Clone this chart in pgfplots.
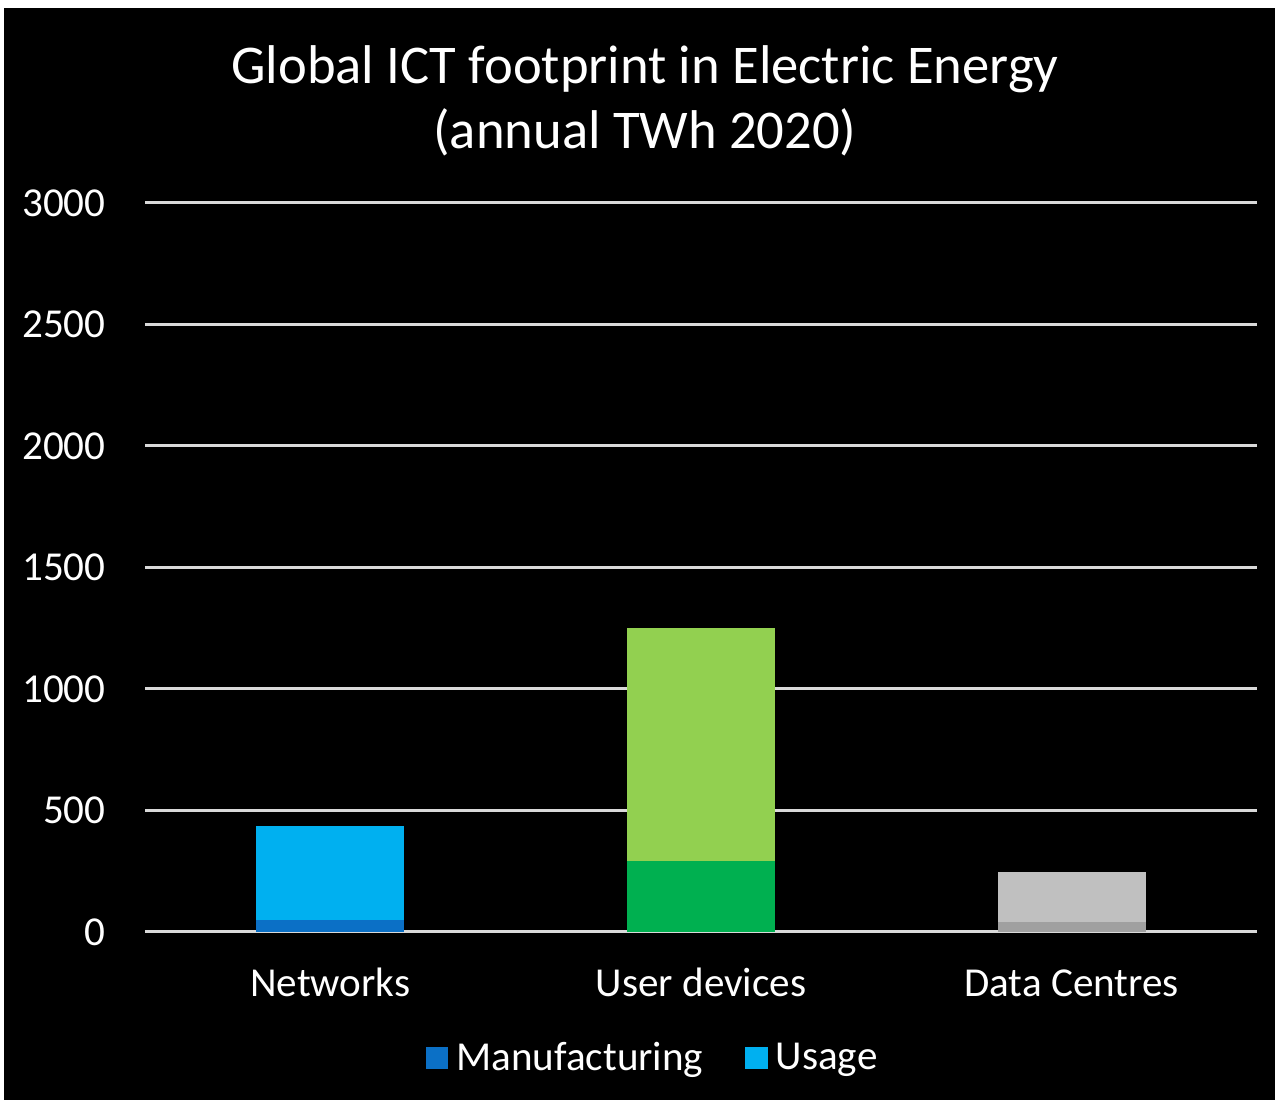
\documentclass[border=0pt]{standalone}
\usepackage{fontspec}
\setmainfont{Carlito}
\usepackage{pgfplots}
\pgfplotsset{compat=1.18}
\definecolor{netM}{HTML}{0B70C6}
\definecolor{netU}{HTML}{00B0F0}
\definecolor{udM}{HTML}{00B050}
\definecolor{udU}{HTML}{92D050}
\definecolor{dcM}{HTML}{A0A0A0}
\definecolor{dcU}{HTML}{C0C0C0}
\definecolor{gridc}{HTML}{D9D9D9}
\begin{document}
\begin{tikzpicture}
\fill[white] (0pt,0pt) rectangle (459pt,396pt);
\fill[black] (1.44pt,0pt) rectangle (459pt,393.12pt);
\node[anchor=base, text=white, inner sep=0, font=\fontsize{19.65pt}{24pt}\selectfont] at (232.2pt,366.1pt) {Global ICT footprint in Electric Energy};
\node[anchor=base, text=white, inner sep=0, font=\fontsize{19.65pt}{24pt}\selectfont] at (232.2pt,342.7pt) {(annual TWh 2020)};
\begin{axis}[
  at={(52.2pt,60.48pt)}, anchor=south west,
  scale only axis, width=400.32pt, height=262.44pt,
  xmin=-0.5, xmax=2.5, ymin=0, ymax=3000,
  ytick={0,500,1000,1500,2000,2500,3000},
  xtick={0,1,2}, xticklabels={Networks,User devices,Data Centres},
  ymajorgrids, grid style={line width=1.08pt, gridc},
  axis line style={draw=none}, major tick length=0pt,
  scaled ticks=false,
  /pgf/number format/1000 sep={},
  /pgf/number format/assume math mode=true,
  tick label style={text=white, font=\fontsize{14.8pt}{17pt}\selectfont},
  y tick label style={anchor=east, inner sep=0pt, xshift=-14pt},
  x tick label style={anchor=base, inner sep=0pt, yshift=-23.4pt},
  ybar stacked, bar width=0.4,
  legend columns=2,
  legend style={draw=none, fill=none, text=white, inner sep=0pt,
    font=\fontsize{14.8pt}{17pt}\selectfont,
    at={(0.458,-0.173)}, anchor=center,
    /tikz/every odd column/.append style={column sep=1pt},
    /tikz/every even column/.append style={column sep=13pt}},
  legend image code/.code={\fill[#1] (0pt,-4.1pt) rectangle (8.1pt,4.1pt);},
]
\addplot[fill=netM, draw=none] coordinates {(0,50) (1,0) (2,0)};
\addlegendentry{Manufacturing}
\addplot[fill=netU, draw=none] coordinates {(0,385) (1,0) (2,0)};
\addlegendentry{Usage}
\addplot[fill=udM, draw=none, forget plot] coordinates {(0,0) (1,292) (2,0)};
\addplot[fill=udU, draw=none, forget plot] coordinates {(0,0) (1,960) (2,0)};
\addplot[fill=dcM, draw=none, forget plot] coordinates {(0,0) (1,0) (2,42)};
\addplot[fill=dcU, draw=none, forget plot] coordinates {(0,0) (1,0) (2,205)};
\end{axis}
\end{tikzpicture}
\end{document}
